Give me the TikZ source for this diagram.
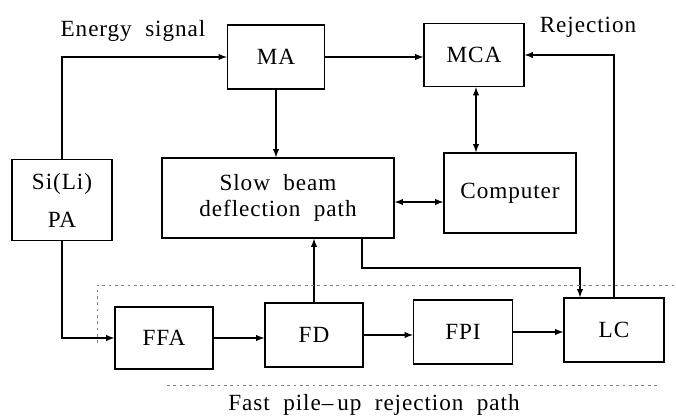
\documentclass[tikz,border=0pt]{standalone}
\usepackage{fontspec}
\setmainfont[LetterSpace=4]{Liberation Serif}
\usetikzlibrary{arrows,positioning}

\begin{document}
\begin{tikzpicture}
\tikzstyle{every node}=[font=\fontsize{16.5}{19}\selectfont]
\tikzstyle{block}=[rectangle, draw=black, line width=1pt, align=center, inner sep=2pt]
\tikzstyle{link}=[line width=1pt, -latex]
\tikzstyle{twolink}=[line width=1pt, latex-latex]
\tikzstyle{border}=[gray, line width=0.5pt, dash pattern=on 2pt off 2.5pt]

\useasboundingbox (0,0) rectangle (16.9,10.475);

% upper part
\node[block, minimum width=2.425cm, minimum height=1.6cm] at (6.9, 9.05) (ma) {MA};
\node[block, minimum width=2.5cm, minimum height=1.575cm] at (11.85, 9.1) (mca) {MCA};
\node[block, minimum width=2.5cm, minimum height=2.025cm] at (1.55, 5.475) (sili) {Si(Li)\\[8pt]PA};
\node[block, minimum width=5.8cm, minimum height=2cm] at (6.95, 5.525) (slow) {Slow\ \ beam\\deflection\ \ path};
\node[block, minimum width=3.3cm, minimum height=2cm] at (12.75, 5.65) (comp) {Computer};

% fast path
\node[block, minimum width=2.45cm, minimum height=1.55cm] at (4.1, 2.025) (ffa) {FFA};
\node[block, minimum width=2.45cm, minimum height=1.6cm] at (7.85, 2.1) (fd) {FD};
\node[block, minimum width=2.475cm, minimum height=1.6cm] at (11.575, 2.175) (fpi) {FPI};
\node[block, minimum width=2.5cm, minimum height=1.6cm] at (15.35, 2.225) (lc) {LC};

% labels
\node at (3.325, 9.7) (energy) {Energy\ \ signal};
\node at (14.7, 9.8) (rej) {Rejection};
\node at (9.35, 0.35) (fastlabel) {Fast\ \ pile--\,up\ \ rejection\ \ path};

\coordinate (bend) at (9.05, 3.775);
\coordinate (dotA) at (2.425, 3.35);
\coordinate (dotB) at (16.9, 3.35);
\coordinate (dotC) at (2.425, 1.9);
\coordinate (dotD) at (4.175, 0.85);
\coordinate (dotE) at (16.5, 0.85);

\draw[link] (sili.north) |- (ma.west);
\draw[link] (ma.east) -- (ma.east -| mca.west);
\draw[link] (ma.south) -- (ma.south |- slow.north);
\draw[twolink] ([xshift=0.05cm]mca.south) -- ([xshift=0.05cm]mca.south |- comp.north);
\draw[twolink] ([yshift=-0.1cm]slow.east) -- ([yshift=-0.1cm]slow.east -| comp.west);
\draw[link] (sili.south) |- (ffa.west);
\draw[link] (ffa.east) -- (ffa.east -| fd.west);
\draw[link] (fd.north) -- (fd.north |- slow.south);
\draw[link] (fd.east) -- (fd.east -| fpi.west);
\draw[link] (fpi.east) -- (fpi.east -| lc.west);
\draw[link] (slow.south -| bend) -- (bend) -| ([xshift=-0.85cm]lc.north);
\draw[link] (lc.north) |- (mca.east);

% dotted frame
\draw[border] (dotC) -- (dotA) -- (dotB);
\draw[border] (dotD) -- (dotE);

\end{tikzpicture}
\end{document}
